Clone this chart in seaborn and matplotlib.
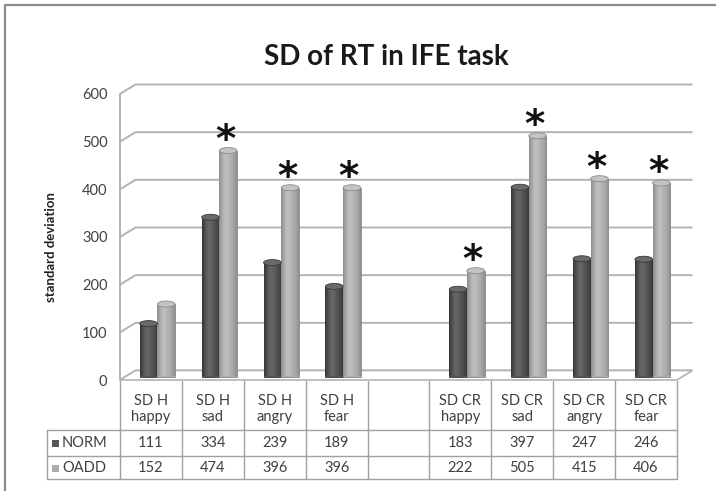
import numpy as np
import pandas as pd
import matplotlib
matplotlib.use("Agg")
import matplotlib.pyplot as plt
import matplotlib.transforms as mtransforms
from matplotlib.patches import Ellipse, Polygon, Rectangle
import seaborn as sns

# ---------------- data ----------------
categories = ["SD H\nhappy", "SD H\nsad", "SD H\nangry", "SD H\nfear", "",
              "SD CR\nhappy", "SD CR\nsad", "SD CR\nangry", "SD CR\nfear"]
series = ["NORM", "OADD"]
norm_values = [111, 334, 239, 189, np.nan, 183, 397, 247, 246]
oadd_values = [152, 474, 396, 396, np.nan, 222, 505, 415, 406]
significant = [False, True, True, True, False, True, True, True, True]
y_ticks = [0, 100, 200, 300, 400, 500, 600]
title = "SD of RT in IFE task"
y_label = "standard deviation"

df = pd.DataFrame({
    "category": categories * 2,
    "group": ["NORM"] * len(categories) + ["OADD"] * len(categories),
    "value": norm_values + oadd_values,
})

# ---------------- style ----------------
sns.set_theme(style="white")
plt.rcParams["font.family"] = ["Lato", "DejaVu Sans"]

W, H = 716, 491
DPI = 100
fig = plt.figure(figsize=(W / DPI, H / DPI), dpi=DPI)
fig.patch.set_facecolor("white")

X0, X1 = 120, 677      # front plane, pixels
Y0, Y1 = 380, 94       # value 0 and 600, pixels
ax = fig.add_axes([X0 / W, 1 - Y0 / H, (X1 - X0) / W, (Y0 - Y1) / H])
ax.set_facecolor("none")

dark_base = "#555555"
light_base = "#ababab"
palette = {"NORM": dark_base, "OADD": light_base}

sns.barplot(data=df, x="category", y="value", hue="group", order=categories,
            hue_order=series, palette=palette, width=0.57, ax=ax,
            legend=False, saturation=1, zorder=3)

ax.set_xlim(-0.5, 8.5)
ax.set_ylim(0, 600)

col_w = (X1 - X0) / 9.0
ppu = (Y0 - Y1) / 600.0           # pixels per value unit
dx = 15.5 / col_w                  # depth offset (data units)
dy = 9.5 / ppu

grid_col = "#b3b3b3"
# back wall gridlines
for v in y_ticks:
    ax.plot([-0.5, -0.5 + dx, 8.5 + dx], [v, v + dy, v + dy], color=grid_col,
            lw=1.4, clip_on=False, zorder=0, solid_capstyle="butt")
# left front edge
ax.plot([-0.5, -0.5], [0, 600], color=grid_col, lw=1.4, clip_on=False, zorder=0)
# floor
floor = Polygon([[-0.5, 0], [8.5, 0], [8.5 + dx, dy], [-0.5 + dx, dy]],
                closed=True, facecolor="white", edgecolor=grid_col, lw=1.2,
                clip_on=False, zorder=1)
ax.add_patch(floor)

# bar shading
bar_off = mtransforms.ScaledTranslation(6.5 / DPI, 3.5 / DPI, fig.dpi_scale_trans)
bar_trans = ax.transData + bar_off


def cylinder_gradient(edge, mid, hi, n=64):
    t = np.linspace(0, 1, n)
    prof = np.clip(np.sin(np.pi * t) ** 0.7, 0, 1)
    hl = np.exp(-((t - 0.38) / 0.18) ** 2)
    e = np.array(matplotlib.colors.to_rgb(edge))
    m = np.array(matplotlib.colors.to_rgb(mid))
    h = np.array(matplotlib.colors.to_rgb(hi))
    rgb = e[None, :] * (1 - prof[:, None]) + m[None, :] * prof[:, None]
    rgb = rgb * (1 - 0.6 * hl[:, None]) + h[None, :] * (0.6 * hl[:, None])
    return rgb[None, :, :]


shades = {
    "NORM": dict(edge="#333333", mid="#585858", hi="#707070", cap="#6a6a6a", line="#3a3a3a"),
    "OADD": dict(edge="#8a8a8a", mid="#b2b2b2", hi="#c9c9c9", cap="#c4c4c4", line="#8a8a8a"),
}

for name, cont in zip(series, ax.containers):
    sh = shades[name]
    grad = cylinder_gradient(sh["edge"], sh["mid"], sh["hi"])
    for p in cont.patches:
        x, y, w, h = p.get_x(), p.get_y(), p.get_width(), p.get_height()
        if not np.isfinite(h):
            continue
        p.set_transform(bar_trans)
        p.set_edgecolor(sh["line"])
        p.set_linewidth(0.6)
        im = ax.imshow(grad, extent=[x, x + w, y, y + h], aspect="auto",
                       transform=bar_trans, zorder=3.5, interpolation="bilinear")
        im.set_clip_path(p)
        cap = Ellipse((x + w / 2, y + h), width=w, height=6 / ppu,
                      transform=bar_trans, facecolor=sh["cap"],
                      edgecolor=sh["line"], lw=0.6, zorder=4)
        ax.add_patch(cap)
        # asterisks over significant OADD bars
        if name == "OADD":
            idx = int(round(x + w / 2 - 0.14))
            if 0 <= idx < len(significant) and significant[idx]:
                ax.annotate("*", xy=(x + w / 2, y + h), xytext=(2.5, -4),
                            textcoords="offset points", ha="center",
                            va="bottom", fontsize=28, fontweight="bold",
                            color="#111111", family=["DejaVu Sans"],
                            zorder=6, annotation_clip=False)

ax.set_xlim(-0.5, 8.5)
ax.set_ylim(0, 600)

# axes cosmetics
for s in ax.spines.values():
    s.set_visible(False)
ax.set_xticks([])
ax.set_xlabel("")
ax.set_yticks(y_ticks)
ax.set_yticklabels([str(v) for v in y_ticks], fontsize=10.5, color="#404040")
ax.tick_params(axis="y", length=0, pad=9)
ax.set_ylabel(y_label, fontsize=9.5, fontweight="bold", color="#222222")
ax.yaxis.set_label_coords(-0.113, 0.465)

# ---------------- overlay in pixel coordinates ----------------
ov = fig.add_axes([0, 0, 1, 1], zorder=5)
ov.set_xlim(0, W)
ov.set_ylim(H, 0)
ov.axis("off")
ov.patch.set_visible(False)

# outer frame
ov.plot([5, W], [5, 5], color="#8c8c8c", lw=1.6)
ov.plot([5, 5], [5, H], color="#8c8c8c", lw=1.6)

# title
ov.text(386, 57, title, ha="center", va="center", fontsize=20,
        fontweight="bold", color="#1a1a1a")

# data table
tcol = "#a0a0a0"
TL = 47
R_HEAD_TOP, R1, R2, R3 = 381, 430, 456, 479
for i in range(10):
    xb = X0 + col_w * i
    ov.plot([xb, xb], [R_HEAD_TOP, R3], color=tcol, lw=1.0)
ov.plot([TL, TL], [R1, R3], color=tcol, lw=1.0)
for yy in (R1, R2, R3):
    ov.plot([TL, X1], [yy, yy], color=tcol, lw=1.0)

txt_col = "#404040"
for i, cat in enumerate(categories):
    xc = X0 + col_w * (i + 0.5)
    if cat:
        ov.text(xc, 409, cat, ha="center", va="center", fontsize=10.5,
                color=txt_col, linespacing=1.2)
    nv, ovv = norm_values[i], oadd_values[i]
    if np.isfinite(nv):
        ov.text(xc, 443, f"{nv:.0f}", ha="center", va="center", fontsize=10.5, color=txt_col)
    if np.isfinite(ovv):
        ov.text(xc, 468, f"{ovv:.0f}", ha="center", va="center", fontsize=10.5, color=txt_col)

for name, yy in zip(series, (443, 468)):
    ov.add_patch(Rectangle((52, yy - 3.5), 7, 7, facecolor=palette[name],
                           edgecolor="none"))
    ov.text(62, yy, name, ha="left", va="center", fontsize=10.5, color=txt_col)

fig.savefig("out.png", dpi=DPI, facecolor="white")
